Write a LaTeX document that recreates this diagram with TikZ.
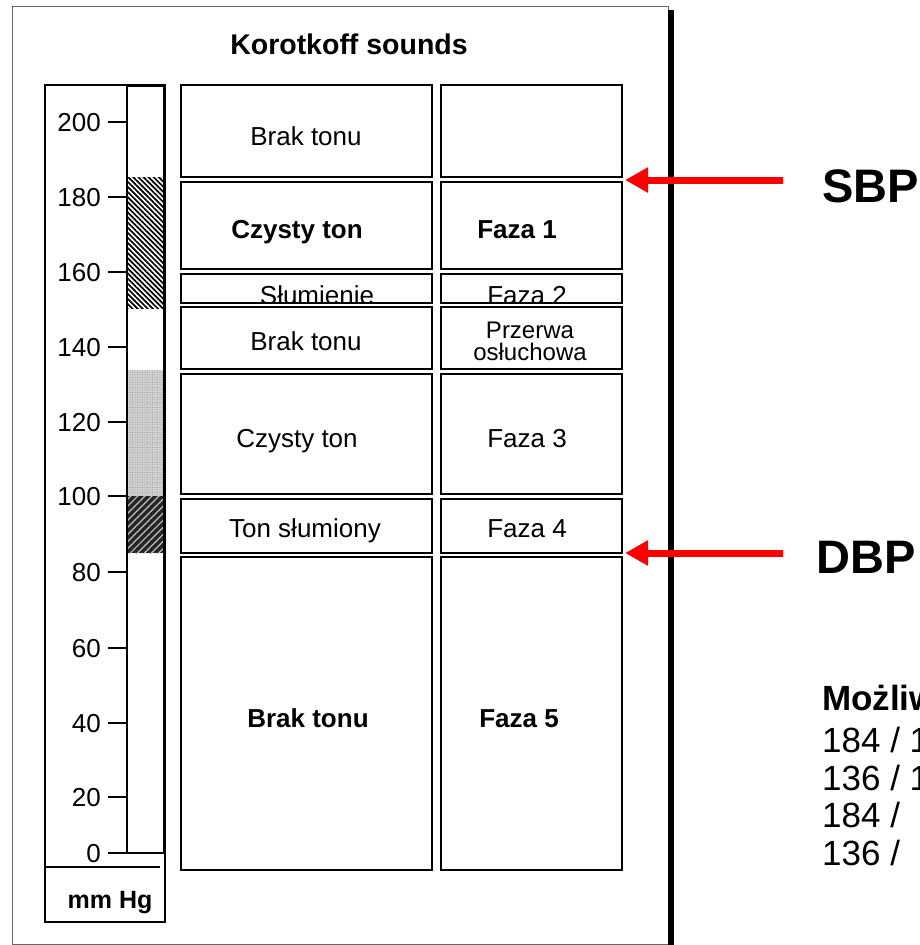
\documentclass[tikz,border=0pt]{standalone}
\usepackage{fontspec}
\setmainfont{Liberation Sans}
\usetikzlibrary{arrows.meta,patterns.meta}
\begin{document}
\begin{tikzpicture}[x=1pt,y=-1pt,
  cell/.style={draw, line width=2pt, inner sep=0pt},
  lbl/.style={font=\fontsize{26}{26}\selectfont, inner sep=0pt, anchor=base},
  blbl/.style={font=\fontsize{26}{26}\selectfont\bfseries, inner sep=0pt, anchor=base},
  ticky/.style={line width=1.5pt},
  num/.style={font=\fontsize{26}{26}\selectfont, inner sep=0pt, anchor=base east},
  redarrow/.style={draw=red, line width=7pt, -{Triangle[length=23pt,width=24pt]}},
  big/.style={font=\fontsize{47}{47}\selectfont\bfseries, inner sep=0pt, anchor=base west},
  note/.style={font=\fontsize{35}{35}\selectfont, inner sep=0pt, anchor=base west}]
\useasboundingbox (0,0) rectangle (920,945);
\clip (0,0) rectangle (920,945);

% outer frame with shadow
\draw[black!60, line width=1pt] (12,6) rectangle (668,944);
\fill (668,10) rectangle (674,945);

% title
\node[font=\fontsize{28.5}{28.5}\selectfont\bfseries, inner sep=0pt, anchor=base] (title) at (349,54) {Korotkoff sounds};

% scale box
\node[draw, line width=1.5pt, minimum width=120pt, minimum height=837pt, inner sep=0pt] (scale) at (105,503.5) {};
\coordinate (ul) at (45,867);
\coordinate (ur) at (160,867);
\draw[line width=1.5pt] (ul) -- (ur);

% column fills
\fill[pattern={Lines[angle=-45,distance=3.6pt,line width=1.7pt]}] (128,177) rectangle (163,308);
\fill[black!18] (128,370) rectangle (163,496);
\fill[pattern={Dots[distance=2.5pt,radius=0.5pt]}, pattern color=black!45] (128,370) rectangle (163,496);
\fill[black!85] (128,496) rectangle (163,553);
\fill[pattern={Lines[angle=45,distance=5pt,line width=1.2pt]}, pattern color=white!75!black] (128,496) rectangle (163,553);

% column outline
\draw[line width=1.5pt] (127,85) -- (127,853) -- (164,853);
\draw[line width=3pt] (164,853) -- (164,85);
\draw[line width=3pt] (126,85) -- (165.5,85);

% ticks and numbers
\foreach \v/\yy in {200/122,180/197,160/272,140/347,120/422,100/496,80/572,60/648,40/723,20/797,0/853}{
  \draw[ticky] (108,\yy) -- (127,\yy);
  \node[num] (n\v) at (101,\yy+9.5) {\v};
}
\node[font=\fontsize{25}{25}\selectfont\bfseries, inner sep=0pt, anchor=base] (unit) at (110,908) {mm Hg};

% clipped texts of row 3
\begin{scope}
  \clip (182,275) rectangle (431,302);
  \node[lbl] (t3a) at (317,304) {Słumienie};
\end{scope}
\begin{scope}
  \clip (442,275) rectangle (621,302);
  \node[lbl] (t3b) at (527,304) {Faza 2};
\end{scope}

% cells
\node[cell, minimum width=251pt, minimum height=92pt] (r1a) at (306.5,131) {};
\node[cell, minimum width=181pt, minimum height=92pt] (r1b) at (531.5,131) {};
\node[cell, minimum width=251pt, minimum height=87pt] (r2a) at (306.5,225.5) {};
\node[cell, minimum width=181pt, minimum height=87pt] (r2b) at (531.5,225.5) {};
\node[cell, minimum width=251pt, minimum height=29pt] (r3a) at (306.5,288.5) {};
\node[cell, minimum width=181pt, minimum height=29pt] (r3b) at (531.5,288.5) {};
\node[cell, minimum width=251pt, minimum height=62pt] (r4a) at (306.5,338) {};
\node[cell, minimum width=181pt, minimum height=62pt] (r4b) at (531.5,338) {};
\node[cell, minimum width=251pt, minimum height=120pt] (r5a) at (306.5,434) {};
\node[cell, minimum width=181pt, minimum height=120pt] (r5b) at (531.5,434) {};
\node[cell, minimum width=251pt, minimum height=54pt] (r6a) at (306.5,526) {};
\node[cell, minimum width=181pt, minimum height=54pt] (r6b) at (531.5,526) {};
\node[cell, minimum width=251pt, minimum height=313pt] (r7a) at (306.5,713.5) {};
\node[cell, minimum width=181pt, minimum height=313pt] (r7b) at (531.5,713.5) {};

% cell texts
\node[lbl] (t1a) at (306,145) {Brak tonu};
\node[blbl] (t2a) at (297,238) {Czysty ton};
\node[blbl] (t2b) at (517,238) {Faza 1};
\node[lbl] (t4a) at (306,350) {Brak tonu};
\node[font=\fontsize{24}{22}\selectfont, inner sep=0pt, align=center] (t4b) at (530,341) {Przerwa\\osłuchowa};
\node[lbl] (t5a) at (297,447) {Czysty ton};
\node[lbl] (t5b) at (527,447) {Faza 3};
\node[lbl] (t6a) at (305,537) {Ton słumiony};
\node[lbl] (t6b) at (527,537) {Faza 4};
\node[blbl] (t7a) at (308,727) {Brak tonu};
\node[blbl] (t7b) at (519,727) {Faza 5};

% arrows and labels
\node[big] (sbp) at (822,202) {SBP};
\coordinate (sbptip) at (625,180);
\draw[redarrow, shorten <=39pt] (sbp.west |- sbptip) -- (sbptip);
\node[big] (dbp) at (816,573) {DBP};
\coordinate (dbptip) at (625,553);
\draw[redarrow, shorten <=33pt] (dbp.west |- dbptip) -- (dbptip);

% note
\node[note, font=\fontsize{35}{35}\selectfont\bfseries] (m0) at (822,710) {Możliw};
\node[note] (m1) at (822,752) {184 / 1};
\node[note] (m2) at (822,790) {136 / 1};
\node[note] (m3) at (822,827) {184 /};
\node[note] (m4) at (822,865) {136 /};
\end{tikzpicture}
\end{document}
